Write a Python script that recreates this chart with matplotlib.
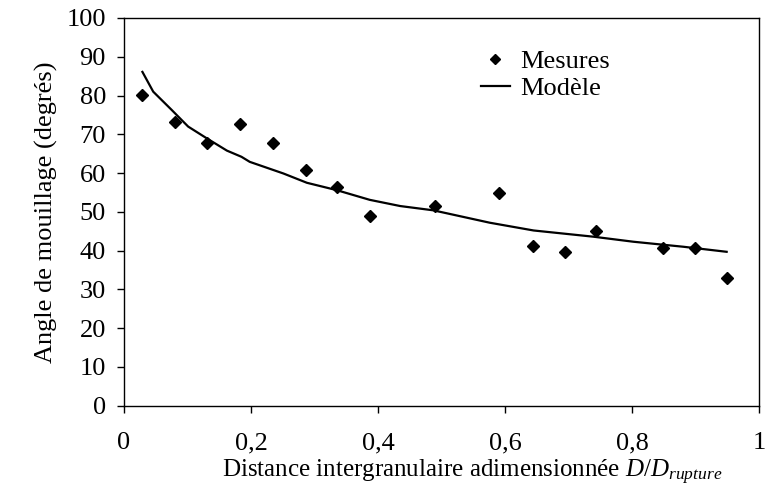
import numpy as np
import matplotlib.pyplot as plt

plt.rcParams["font.family"] = "Liberation Serif"
plt.rcParams["mathtext.fontset"] = "custom"
plt.rcParams["mathtext.rm"] = "Liberation Serif"
plt.rcParams["mathtext.it"] = "Liberation Serif:italic"

# measured points
mes_x = [0.029, 0.081, 0.130, 0.182, 0.235, 0.287, 0.335, 0.387, 0.490,
         0.591, 0.644, 0.695, 0.744, 0.848, 0.899, 0.949]
mes_y = [80.1, 73.2, 67.8, 72.7, 67.8, 60.8, 56.4, 48.9, 51.5,
         54.8, 41.3, 39.7, 45.1, 40.7, 40.7, 33.0]

# model curve
mod_x = [0.029, 0.046, 0.075, 0.101, 0.130, 0.162, 0.185, 0.198, 0.251,
         0.288, 0.335, 0.387, 0.435, 0.487, 0.576, 0.645, 0.739, 0.802,
         0.881, 0.949]
mod_y = [86.1, 81.0, 76.3, 72.0, 69.0, 65.8, 64.2, 62.9, 59.9,
         57.5, 55.6, 53.1, 51.5, 50.4, 47.2, 45.2, 43.6, 42.3,
         41.0, 39.7]

xticks = [0, 0.2, 0.4, 0.6, 0.8, 1]
xlabels = ["0", "0,2", "0,4", "0,6", "0,8", "1"]
yticks = np.arange(0, 101, 10)

fig = plt.figure(figsize=(7.65, 4.93), dpi=100)
ax = fig.add_axes([0.1621, 0.177, 0.8301, 0.7865])

ax.plot(mes_x, mes_y, "D", color="black", ms=6.5, label="Mesures", zorder=3)
ax.plot(mod_x, mod_y, "-", color="black", lw=1.6, label="Modèle")

ax.set_xlim(0, 1)
ax.set_ylim(0, 100)
ax.set_xticks(xticks)
ax.set_xticklabels(xlabels)
ax.set_yticks(yticks)
ax.tick_params(axis="both", direction="out", length=5, width=1, labelsize=19)
ax.tick_params(axis="x", pad=14)
ax.tick_params(axis="y", pad=8)
for s in ax.spines.values():
    s.set_linewidth(1)

ax.set_xlabel("Distance intergranulaire adimensionnée $D/D_{rupture}$", fontsize=18)
ax.xaxis.set_label_coords(0.548, -0.135)
ax.set_ylabel("Angle de mouillage (degrés)", fontsize=19, labelpad=6)

ax.legend(loc="upper left", bbox_to_anchor=(0.545, 0.945), frameon=False,
          fontsize=19, handlelength=1.1, handletextpad=0.4, labelspacing=0.12,
          borderaxespad=0, markerscale=0.8)

fig.savefig("out.png", dpi=100)
